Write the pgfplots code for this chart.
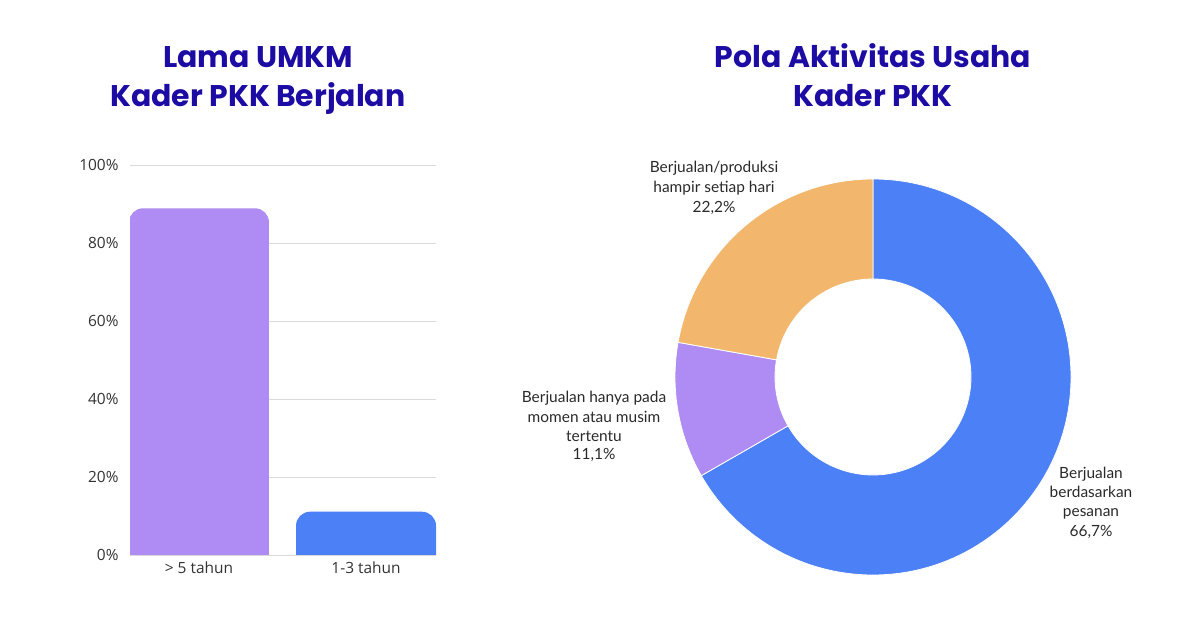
\documentclass[border=0pt]{standalone}
\usepackage{pgfplots}
\pgfplotsset{compat=1.18}
\usepackage{fontspec}
\setmainfont{Open Sans}
\newfontfamily\titlefont{Poppins}
\newfontfamily\labelfont{Lato}
\definecolor{titleblue}{HTML}{1C0CA3}
\definecolor{barpurple}{HTML}{AE8CF4}
\definecolor{barblue}{HTML}{4B80F6}
\definecolor{pieorange}{HTML}{F2B76C}
\definecolor{gridgray}{HTML}{DADADA}
\definecolor{ticktext}{HTML}{333333}
\definecolor{labeltext}{HTML}{2A2A2A}
% bar values (percent)
\def\bA{88.9}% > 5 tahun
\def\bB{11.1}% 1-3 tahun
% donut values (percent), clockwise from the top
\def\pA{66.7}% Berjualan berdasarkan pesanan
\def\pB{11.1}% Berjualan hanya pada momen atau musim tertentu
\def\pC{22.2}% Berjualan/produksi hampir setiap hari
\newcommand\tline[3]{\node[anchor=base,font=\titlefont\bfseries\fontsize{30}{36}\selectfont,text=titleblue,inner sep=0pt] at (#1bp,#2bp) {#3};}
\begin{document}
\begin{tikzpicture}
\path[use as bounding box] (0,0) rectangle (1200bp,630bp);
% titles
\tline{258}{562}{Lama UMKM}
\tline{258}{523}{Kader PKK Berjalan}
\tline{873}{562}{Pola Aktivitas Usaha}
\tline{873}{523}{Kader PKK}
% bar chart
\begin{axis}[
  at={(130bp,75bp)}, anchor=south west, scale only axis,
  width=306bp, height=390bp,
  xmin=-0.413, xmax=1.419,
  ymin=0, ymax=100,
  xtick={0,1}, xticklabels={{> 5 tahun},{1-3 tahun}},
  ytick={0,20,40,60,80,100},
  yticklabels={0\%,20\%,40\%,60\%,80\%,100\%},
  major tick length=0pt,
  axis line style={draw=none},
  ymajorgrids, grid style={gridgray, line width=0.9bp},
  ticklabel style={font=\fontsize{15.5}{18}\selectfont, text=ticktext},
  yticklabel style={xshift=-8bp},
  xticklabel style={yshift=-3bp},
  clip=true,
]
% each bar: category position +- half bar width (140bp), from below the axis to its value
\addplot[fill=barpurple, draw=none, rounded corners=14bp] coordinates {(-0.419,-10) (-0.419,\bA) (0.419,\bA) (0.419,-10)};
\addplot[fill=barblue, draw=none, rounded corners=14bp] coordinates {(0.581,-10) (0.581,\bB) (1.419,\bB) (1.419,-10)};
\end{axis}
% donut chart
\pgfmathsetmacro\aA{90}
\pgfmathsetmacro\aB{\aA-3.6*\pA}
\pgfmathsetmacro\aC{\aB-3.6*\pB}
\pgfmathsetmacro\aD{\aC-3.6*\pC}
\begin{axis}[
  at={(873bp,253bp)}, anchor=center, scale only axis,
  width=400bp, height=400bp,
  xmin=-200, xmax=200, ymin=-200, ymax=200,
  hide axis, clip=false,
]
\fill[barblue, draw=white, line width=0.8bp] ([shift={(\aA:198bp)}]axis cs:0,0) arc[start angle=\aA, end angle=\aB, radius=198bp] -- ++(\aB:-100bp) arc[start angle=\aB, end angle=\aA, radius=98bp] -- cycle;
\fill[barpurple, draw=white, line width=0.8bp] ([shift={(\aB:198bp)}]axis cs:0,0) arc[start angle=\aB, end angle=\aC, radius=198bp] -- ++(\aC:-100bp) arc[start angle=\aC, end angle=\aB, radius=98bp] -- cycle;
\fill[pieorange, draw=white, line width=0.8bp] ([shift={(\aC:198bp)}]axis cs:0,0) arc[start angle=\aC, end angle=\aD, radius=198bp] -- ++(\aD:-100bp) arc[start angle=\aD, end angle=\aC, radius=98bp] -- cycle;
\tikzset{lab/.style={anchor=base, inner sep=0pt, text=labeltext, font=\labelfont\fontsize{15.5}{19}\selectfont}}
% orange label
\node[lab] at (axis cs:-159,204) {Berjualan/produksi};
\node[lab] at (axis cs:-159,184) {hampir setiap hari};
\node[lab] at (axis cs:-159,164) {22,2\%};
% purple label
\node[lab] at (axis cs:-279,-26) {Berjualan hanya pada};
\node[lab] at (axis cs:-279,-46) {momen atau musim};
\node[lab] at (axis cs:-279,-65) {tertentu};
\node[lab] at (axis cs:-279,-83) {11,1\%};
% blue label
\node[lab] at (axis cs:218,-102) {Berjualan};
\node[lab] at (axis cs:218,-121) {berdasarkan};
\node[lab] at (axis cs:218,-140) {pesanan};
\node[lab] at (axis cs:218,-160) {66,7\%};
\end{axis}
\end{tikzpicture}
\end{document}
